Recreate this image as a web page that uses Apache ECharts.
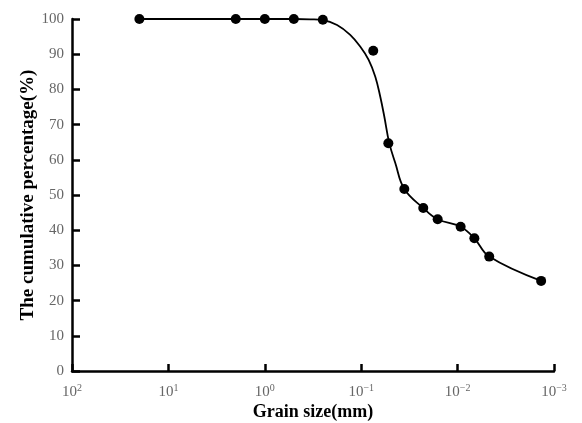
<!DOCTYPE html>
<html>
<head>
<meta charset="utf-8">
<script src="https://cdn.jsdelivr.net/npm/echarts@6/dist/echarts.min.js"></script>
<style>
  html, body { margin: 0; padding: 0; background: #fff; }
  #main { width: 582px; height: 423px; }
</style>
</head>
<body>
<div id="main"></div>
<script>
// measured points (grain size mm, cumulative %)
var grainSize = [20, 2, 1, 0.5, 0.25, 0.075, 0.0523, 0.0357, 0.0227, 0.0161, 0.0093, 0.0067, 0.0047, 0.00136];
var percent   = [100, 100, 100, 100, 99.8, 91.0, 64.7, 51.7, 46.3, 43.1, 41.0, 37.7, 32.5, 25.6];

// fitted curve
var curveSize = [20, 2, 1, 0.5, 0.337, 0.25, 0.178, 0.130, 0.102, 0.0837, 0.0714, 0.0634, 0.0576, 0.0512, 0.0443, 0.0357, 0.0227, 0.0161, 0.0093, 0.0067, 0.0047, 0.00136];
var curvePct  = [100, 100, 100, 100, 99.9, 99.7, 98.3, 95.5, 92.1, 88.4, 83.6, 77.9, 72.3, 64.8, 59.1, 51.7, 46.3, 43.1, 41.0, 37.7, 32.5, 25.6];

var yTicks = [0, 10, 20, 30, 40, 50, 60, 70, 80, 90, 100];

var myChart = echarts.init(document.getElementById('main'));

var pts = grainSize.map(function (v, i) { return [v, percent[i]]; });
var curve = curveSize.map(function (v, i) { return [v, curvePct[i]]; });

option = {
    animation: false,
    backgroundColor: '#fff',
    grid: { left: 72, right: 28, top: 19, bottom: 52, containLabel: false, outerBoundsMode: 'none' },
    xAxis: {
        type: 'log',
        logBase: 10,
        min: 0.001,
        max: 100,
        inverse: true,
        name: 'Grain size(mm)',
        nameLocation: 'middle',
        nameGap: 32,
        nameMoveOverlap: false,
        nameTextStyle: { fontFamily: 'Liberation Serif', fontWeight: 'bold', fontSize: 18, color: '#000' },
        axisLine: { lineStyle: { color: '#000', width: 2.5 } },
        axisTick: { inside: true, length: 7, lineStyle: { color: '#000', width: 2.5 } },
        splitLine: { show: false },
        axisLabel: {
            margin: 12,
            fontFamily: 'Liberation Serif',
            fontSize: 15,
            color: '#666',
            formatter: function (v) {
                var e = Math.round(Math.log10(v));
                var s = String(e).replace('-', '\u2212');
                return '10{sup|' + s + '}';
            },
            rich: {
                sup: { fontSize: 10, verticalAlign: 'top', padding: [0, 0, 9, 0], color: '#666', fontFamily: 'Liberation Serif' }
            }
        }
    },
    yAxis: {
        type: 'value',
        min: 0,
        max: 100,
        interval: 10,
        name: 'The cumulative percentage(%)',
        nameLocation: 'middle',
        nameGap: 34,
        nameMoveOverlap: false,
        nameTextStyle: { fontFamily: 'Liberation Serif', fontWeight: 'bold', fontSize: 19, color: '#000' },
        axisLine: { show: true, lineStyle: { color: '#000', width: 2.5 } },
        axisTick: { show: true, inside: true, length: 8, lineStyle: { color: '#000', width: 2.5 } },
        splitLine: { show: false },
        axisLabel: {
            margin: 8,
            fontFamily: 'Liberation Serif',
            fontSize: 15,
            color: '#666',
            formatter: function (v) { return yTicks.indexOf(v) >= 0 ? String(v) : ''; }
        }
    },
    series: [
        {
            name: 'fit',
            type: 'line',
            data: curve,
            smooth: 0.4,
            showSymbol: false,
            symbol: 'none',
            lineStyle: { color: '#000', width: 1.8 },
            z: 2
        },
        {
            name: 'measured',
            type: 'scatter',
            data: pts,
            symbol: 'circle',
            symbolSize: 10,
            itemStyle: { color: '#000', opacity: 1 },
            z: 3
        }
    ]
};

myChart.setOption(option);
</script>
</body>
</html>
